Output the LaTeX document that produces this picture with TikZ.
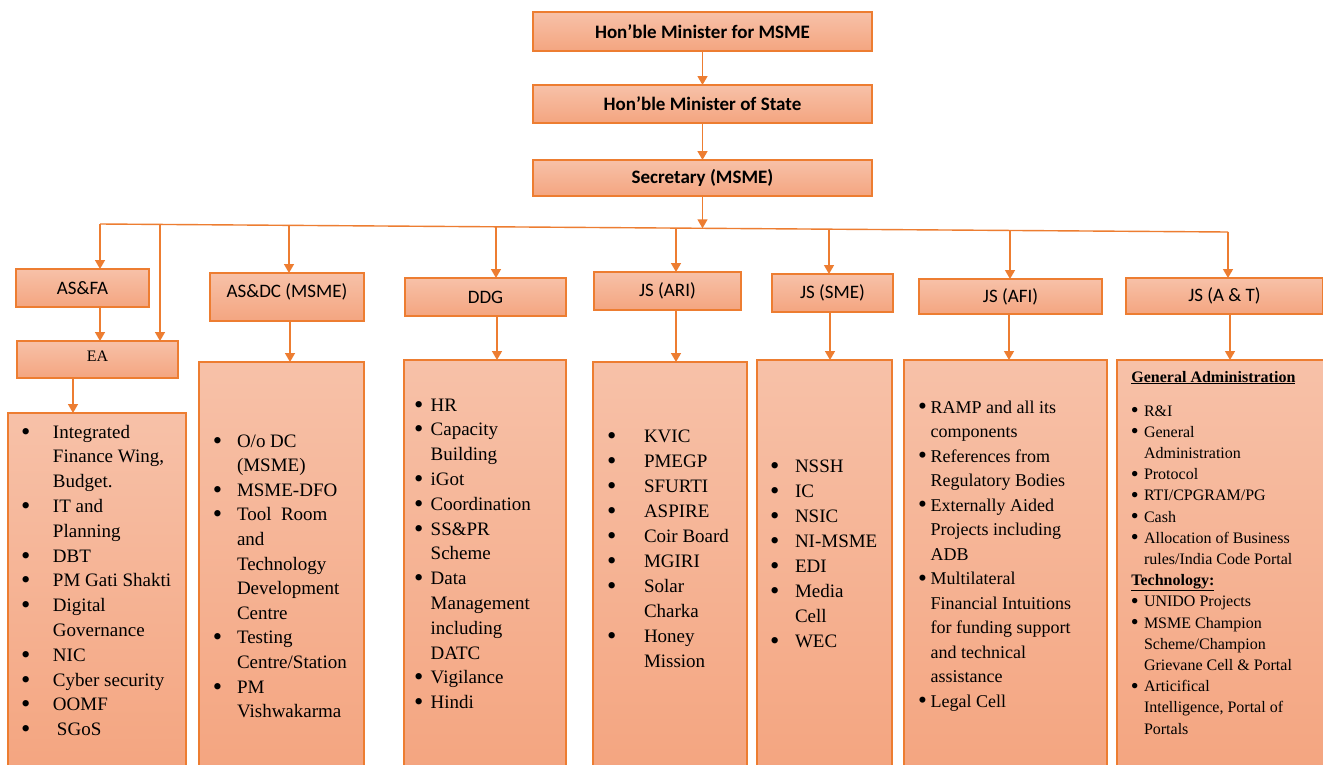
\documentclass[tikz,border=0pt]{standalone}
\usepackage{fontspec}
\usepackage{graphicx}
\setmainfont{Liberation Serif}
\newfontfamily\calib{Carlito}
\usetikzlibrary{arrows.meta}
\definecolor{edge}{RGB}{237,125,49}
\definecolor{ftop}{RGB}{247,193,168}
\definecolor{fbot}{RGB}{244,165,128}
\newlength\bw
\newcommand\bi{\makebox[\bw][l]{\hspace{-0.6pt}\raisebox{-0.11em}{\scalebox{1.4}{\textbullet}}}}
\newcommand\ci{\hspace*{\bw}}
\tikzset{
  box/.style={draw=edge, line width=1.1pt, top color=ftop, bottom color=fbot, inner sep=0pt, outer sep=0pt},
  topbox/.style={box, font=\calib\bfseries\fontsize{19}{22}\selectfont},
  hdbox/.style={box, font=\calib\fontsize{19}{22}\selectfont},
  conn/.style={draw=edge, line width=1.4pt},
  arr/.style={conn, -{Triangle[width=10pt,length=9pt]}},
  lst/.style={anchor=base west, inner sep=0pt, outer sep=0pt},
}
\begin{document}
\begin{tikzpicture}[x=1pt,y=-1pt]
\useasboundingbox (0,0) rectangle (1323,764);
\clip (0,0) rectangle (1323,764);
\fill[white] (0,0) rectangle (1323,764);

% top chain
\node[topbox, minimum width=339pt, minimum height=39pt] (m1) at (702.5,31.5) {Hon’ble Minister for MSME};
\node[topbox, minimum width=339pt, minimum height=38pt] (m2) at (702.5,104) {Hon’ble Minister of State};
\node[topbox, minimum width=339pt, minimum height=36pt] (m3) at (702.5,178) {Secretary (MSME)};
\draw[arr] (m1) -- (m2);
\draw[arr] (m2) -- (m3);

% bus
\coordinate (busL) at (100,224);
\coordinate (busR) at (1228,232);
\coordinate (s0) at (702.5,228.3);
\coordinate (b2) at (160,224.4);
\coordinate (b3) at (289,225.3);
\coordinate (b4) at (496,226.8);
\coordinate (b5) at (676,228.1);
\coordinate (b6) at (829,229.2);
\coordinate (b7) at (1010,230.5);
\draw[conn] (busL) -- (busR);
\draw[arr] (m3.south) -- (m3.south |- s0);

% second level
\node[hdbox, minimum width=133pt, minimum height=38pt] (asfa) at (82.5,288) {AS\&FA};
\node[box, font=\fontsize{16}{19}\selectfont, minimum width=161pt, minimum height=37pt] (ea) at (97.5,359.5) {\raisebox{2.8pt}[\height][\depth]{EA}};
\node[hdbox, minimum width=154pt, minimum height=48pt] (asdc) at (287,297) {\raisebox{5.3pt}[\height][\depth]{AS\&DC (MSME)}};
\node[hdbox, minimum width=161pt, minimum height=38pt] (ddg) at (485.5,297) {DDG};
\node[hdbox, minimum width=147pt, minimum height=38pt] (ari) at (667.5,291) {JS (ARI)};
\node[hdbox, minimum width=121pt, minimum height=38pt] (sme) at (832.5,293) {JS (SME)};
\node[hdbox, minimum width=183pt, minimum height=35pt] (afi) at (1010.5,296.5) {JS (AFI)};
\node[hdbox, minimum width=197pt, minimum height=36pt] (at) at (1224.5,296) {JS (A \& T)};

\draw[arr] (busL) -- (busL |- asfa.north);
\draw[arr] (b2) -- (b2 |- ea.north);
\draw[arr] (b3) -- (b3 |- asdc.north);
\draw[arr] (b4) -- (b4 |- ddg.north);
\draw[arr] (b5) -- (b5 |- ari.north);
\draw[arr] (b6) -- (b6 |- sme.north);
\draw[arr] (b7) -- (b7 |- afi.north);
\draw[arr] (busR) -- (busR |- at.north);
\draw[arr] (asfa.south -| busL) -- (ea.north -| busL);

% list boxes
\node[box, minimum width=178pt, minimum height=357pt] (eaL) at (97,591.5) {};
\node[box, minimum width=165pt, minimum height=408pt] (asdcL) at (281.5,566) {};
\node[box, minimum width=162pt, minimum height=410pt] (ddgL) at (485,565) {};
\node[box, minimum width=154pt, minimum height=408pt] (ariL) at (670,566) {};
\node[box, minimum width=135pt, minimum height=410pt] (smeL) at (824.5,565) {};
\node[box, minimum width=203pt, minimum height=410pt] (afiL) at (1005.5,565) {};
\node[box, minimum width=213pt, minimum height=410pt] (atL) at (1223.5,565) {};

\draw[arr] ([xshift=-24.5pt]ea.south) -- ([xshift=-24pt]eaL.north);
\draw[arr] ([xshift=3pt]asdc.south) -- ([xshift=8.5pt]asdcL.north);
\draw[arr] ([xshift=11.5pt]ddg.south) -- ([xshift=12pt]ddgL.north);
\draw[arr] ([xshift=8.5pt]ari.south) -- ([xshift=6pt]ariL.north);
\draw[arr] ([xshift=-2.5pt]sme.south) -- ([xshift=5.5pt]smeL.north);
\draw[arr] ([xshift=-1.5pt]afi.south) -- ([xshift=3.5pt]afiL.north);
\draw[arr] ([xshift=5.5pt]at.south) -- ([xshift=6.5pt]atL.north);

% list texts
\node[lst] (eaT) at (21.7,438) {\setlength\bw{31.3pt}\fontsize{19}{24.8}\selectfont
\begin{tabular}[t]{@{}l@{}}
\bi Integrated\\ \ci Finance Wing,\\ \ci Budget.\\ \bi IT and\\ \ci Planning\\ \bi DBT\\ \bi PM Gati Shakti\\ \bi Digital\\ \ci Governance\\ \bi NIC\\ \bi Cyber security\\ \bi OOMF\\ \bi\hspace{4pt}SGoS
\end{tabular}};

\node[lst] (asdcT) at (213.4,447) {\setlength\bw{23.6pt}\fontsize{19}{24.6}\selectfont
\begin{tabular}[t]{@{}l@{}}
\bi O/o DC\\ \ci (MSME)\\ \bi MSME-DFO\\ \bi Tool\ \ Room\\ \ci and\\ \ci Technology\\ \ci Development\\ \ci Centre\\ \bi Testing\\ \ci Centre/Station\\ \bi PM\\ \ci Vishwakarma
\end{tabular}};

\node[lst] (ddgT) at (414.7,411) {\setlength\bw{16pt}\fontsize{19}{24.8}\selectfont
\begin{tabular}[t]{@{}l@{}}
\bi HR\\ \bi Capacity\\ \ci Building\\ \bi iGot\\ \bi Coordination\\ \bi SS\&PR\\ \ci Scheme\\ \bi Data\\ \ci Management\\ \ci including\\ \ci DATC\\ \bi Vigilance\\ \bi Hindi
\end{tabular}};

\node[lst] (ariT) at (607.7,442) {\setlength\bw{36.3pt}\fontsize{19}{25}\selectfont
\begin{tabular}[t]{@{}l@{}}
\bi KVIC\\ \bi PMEGP\\ \bi SFURTI\\ \bi ASPIRE\\ \bi Coir Board\\ \bi MGIRI\\ \bi Solar\\ \ci Charka\\ \bi Honey\\ \ci Mission
\end{tabular}};

\node[lst] (smeT) at (770.7,472) {\setlength\bw{24.3pt}\fontsize{19}{25.1}\selectfont
\begin{tabular}[t]{@{}l@{}}
\bi NSSH\\ \bi IC\\ \bi NSIC\\ \bi NI-MSME\\ \bi EDI\\ \bi Media\\ \ci Cell\\ \bi WEC
\end{tabular}};

\node[lst] (afiT) at (918.6,413) {\setlength\bw{12.1pt}\fontsize{18}{24.5}\selectfont
\begin{tabular}[t]{@{}l@{}}
\bi RAMP and all its\\ \ci components\\ \bi References from\\ \ci Regulatory Bodies\\ \bi Externally Aided\\ \ci Projects including\\ \ci ADB\\ \bi Multilateral\\ \ci Financial Intuitions\\ \ci for funding support\\ \ci and technical\\ \ci assistance\\ \bi Legal Cell
\end{tabular}};

\node[lst] (atT) at (1131.4,382) {\setlength\bw{12.6pt}\fontsize{16}{21.2}\selectfont
\begin{tabular}[t]{@{}l@{}}
\underline{\textbf{General Administration}}\\[12.8pt]
\bi R\&I\\ \bi General\\ \ci Administration\\ \bi Protocol\\ \bi RTI/CPGRAM/PG\\ \bi Cash\\ \bi Allocation of Business\\ \ci rules/India Code Portal\\
\underline{\textbf{Technology:}}\\
\bi UNIDO Projects\\ \bi MSME Champion\\ \ci Scheme/Champion\\ \ci Grievane Cell \& Portal\\ \bi Articifical\\ \ci Intelligence, Portal of\\ \ci Portals
\end{tabular}};
\end{tikzpicture}
\end{document}
